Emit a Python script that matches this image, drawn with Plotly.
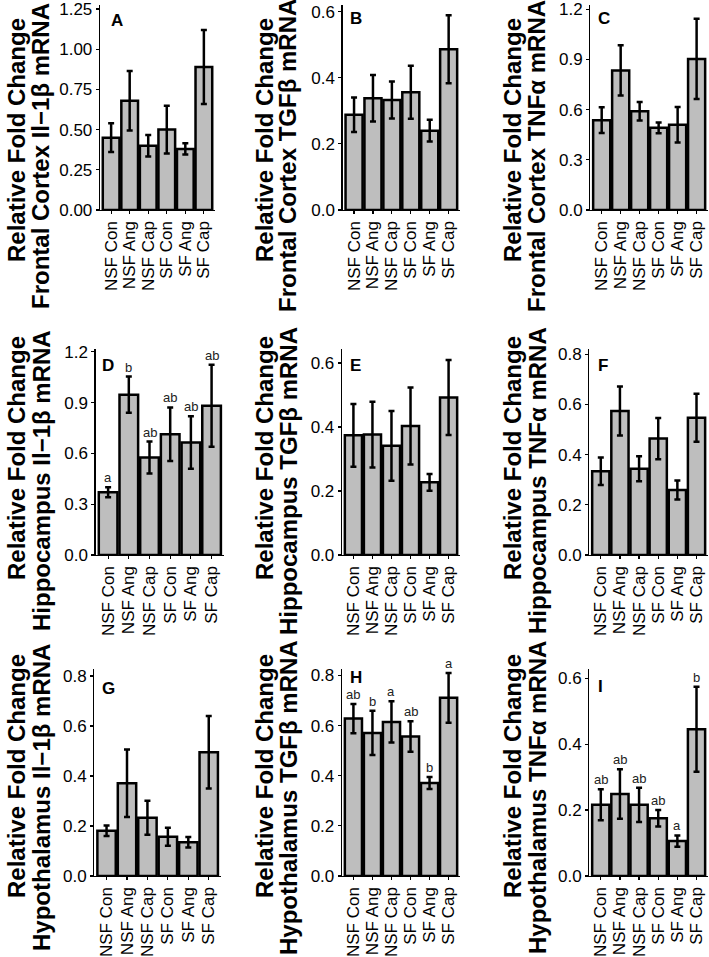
import plotly.graph_objects as go

categories = ["NSF Con", "NSF Ang", "NSF Cap", "SF Con", "SF Ang", "SF Cap"]

# Panel data: mean and SE
A_mean = [0.45, 0.68, 0.40, 0.50, 0.38, 0.89]
A_se = [0.09, 0.185, 0.067, 0.148, 0.035, 0.23]
B_mean = [0.288, 0.338, 0.333, 0.356, 0.24, 0.486]
B_se = [0.052, 0.07, 0.056, 0.08, 0.033, 0.103]
C_mean = [0.537, 0.834, 0.59, 0.491, 0.509, 0.903]
C_se = [0.077, 0.15, 0.055, 0.032, 0.106, 0.24]
D_mean = [0.371, 0.947, 0.576, 0.714, 0.665, 0.882]
D_se = [0.03, 0.107, 0.094, 0.158, 0.155, 0.242]
E_mean = [0.374, 0.376, 0.341, 0.403, 0.227, 0.492]
E_se = [0.098, 0.103, 0.109, 0.12, 0.026, 0.117]
F_mean = [0.334, 0.574, 0.344, 0.464, 0.259, 0.547]
F_se = [0.055, 0.098, 0.05, 0.082, 0.038, 0.096]
G_mean = [0.181, 0.371, 0.233, 0.157, 0.135, 0.495]
G_se = [0.021, 0.135, 0.068, 0.036, 0.021, 0.145]
H_mean = [0.628, 0.571, 0.615, 0.557, 0.371, 0.711]
H_se = [0.058, 0.088, 0.082, 0.061, 0.024, 0.099]
I_mean = [0.216, 0.249, 0.216, 0.175, 0.106, 0.445]
I_se = [0.047, 0.075, 0.052, 0.025, 0.017, 0.129]

D_letters = ["a", "b", "ab", "ab", "ab", "ab"]
H_letters = ["ab", "b", "a", "ab", "b", "a"]
I_letters = ["ab", "ab", "ab", "ab", "a", "b"]

panel_labels = ["A", "B", "C", "D", "E", "F", "G", "H", "I"]
title_line1 = "Relative Fold Change"
title_line2 = [
    "Frontal Cortex Il−1β mRNA", "Frontal Cortex TGFβ mRNA", "Frontal Cortex TNFα mRNA",
    "Hippocampus Il−1β mRNA", "Hippocampus TGFβ mRNA", "Hippocampus TNFα mRNA",
    "Hypothalamus Il−1β mRNA", "Hypothalamus TGFβ mRNA", "Hypothalamus TNFα mRNA",
]
y_max = [1.275, 0.62, 1.225, 1.22, 0.645, 0.823, 0.828, 0.826, 0.628]
y_ticks = [
    [0, 0.25, 0.5, 0.75, 1.0, 1.25],
    [0, 0.2, 0.4, 0.6],
    [0, 0.3, 0.6, 0.9, 1.2],
    [0, 0.3, 0.6, 0.9, 1.2],
    [0, 0.2, 0.4, 0.6],
    [0, 0.2, 0.4, 0.6, 0.8],
    [0, 0.2, 0.4, 0.6, 0.8],
    [0, 0.2, 0.4, 0.6, 0.8],
    [0, 0.2, 0.4, 0.6],
]
y_fmt = [".2f"] + [".1f"] * 8

means = [A_mean, B_mean, C_mean, D_mean, E_mean, F_mean, G_mean, H_mean, I_mean]
ses = [A_se, B_se, C_se, D_se, E_se, F_se, G_se, H_se, I_se]
letters = {3: D_letters, 7: H_letters, 8: I_letters}

W, H = 709, 957
# layout in pixels
x_px = [(100, 215), (342.7, 460), (590.3, 708),
        (95.7, 224), (342, 460), (589.3, 708),
        (94.3, 221), (342, 460), (589.3, 708)]
row_px = [(5, 210), (348.5, 555), (669, 876)]
title_x = [(16, 41), (264, 288), (512, 537)]
title_y = [(140, 156), (458, 481), (776, 798)]
label_dx = [9, 5, 6, 4.5, 5.7, 6.7, 6, 5.7, 7]
label_dy = [15, 14, 14, 17, 17, 17, 19, 8, 17]

FONT = "Liberation Sans, Arial, sans-serif"

fig = go.Figure()
layout = dict(
    width=W, height=H, margin=dict(l=0, r=0, t=0, b=0, pad=0),
    paper_bgcolor="white", plot_bgcolor="white", showlegend=False,
    bargap=0.1, font=dict(family=FONT, color="black"),
)
annotations = []

for i in range(9):
    r, c = divmod(i, 3)
    n = "" if i == 0 else str(i + 1)
    xa, ya = "x" + n, "y" + n
    x0, x1 = x_px[i]
    yt, yb = row_px[r]
    fig.add_trace(go.Bar(
        x=categories, y=means[i], xaxis=xa, yaxis=ya,
        marker=dict(color="#BEBEBE", line=dict(color="black", width=2.5)),
        error_y=dict(type="data", array=ses[i], symmetric=True,
                     color="black", thickness=2.5, width=3),
        width=0.9,
    ))
    layout["xaxis" + n] = dict(
        domain=[x0 / W, x1 / W], anchor=ya, type="category",
        range=[-0.6, 5.6], showline=True, linecolor="black", linewidth=1.3,
        tickmode="array", tickvals=categories, ticktext=categories,
        ticks="outside", ticklen=3, tickwidth=1.2, tickcolor="black",
        tickangle=-90, tickfont=dict(size=17, family=FONT, color="black"),
        ticklabeloverflow="allow",
        showgrid=False, zeroline=False, automargin=False, fixedrange=True,
    )
    layout["yaxis" + n] = dict(
        domain=[1 - yb / H, 1 - yt / H], anchor=xa,
        range=[0, y_max[i]], tickvals=y_ticks[i], tickformat=y_fmt[i],
        showline=True, linecolor="black", linewidth=1.3,
        ticks="outside", ticklen=3, tickwidth=1.2, tickcolor="black",
        tickfont=dict(size=17, family=FONT, color="black"),
        ticklabeloverflow="allow",
        showgrid=False, zeroline=False, automargin=False, fixedrange=True,
    )
    # panel letter
    annotations.append(dict(
        text="<b>%s</b>" % panel_labels[i], xref="paper", yref="paper",
        x=(x0 + label_dx[i]) / W, y=1 - (yt + label_dy[i]) / H,
        xanchor="left", yanchor="middle", showarrow=False,
        font=dict(size=17, family=FONT, color="black"),
    ))
    # y-axis titles
    tx1, tx2 = title_x[c]
    ty1, ty2 = title_y[r]
    annotations.append(dict(
        text="<b>%s</b>" % title_line1, xref="paper", yref="paper",
        x=tx1 / W, y=1 - ty1 / H, xanchor="center", yanchor="middle",
        textangle=-90, showarrow=False,
        font=dict(size=24, family=FONT, color="black"),
    ))
    annotations.append(dict(
        text="<b>%s</b>" % title_line2[i], xref="paper", yref="paper",
        x=tx2 / W, y=1 - ty2 / H, xanchor="center", yanchor="middle",
        textangle=-90, showarrow=False,
        font=dict(size=24, family=FONT, color="black"),
    ))
    # significance letters
    if i in letters:
        for k, cat in enumerate(categories):
            annotations.append(dict(
                text=letters[i][k], xref=xa, yref=ya,
                x=cat, y=means[i][k] + ses[i][k], xanchor="center",
                yanchor="bottom", yshift=0, showarrow=False,
                font=dict(size=13, family=FONT, color="#222222"),
            ))

layout["annotations"] = annotations
fig.update_layout(**layout)
fig.write_html(
    "out.html",
    config={"displayModeBar": False, "staticPlot": True},
    post_script=(
        "document.body.style.margin='0';"
        "document.body.style.overflow='hidden';"
        "document.documentElement.style.overflow='hidden';"
    ),
)
